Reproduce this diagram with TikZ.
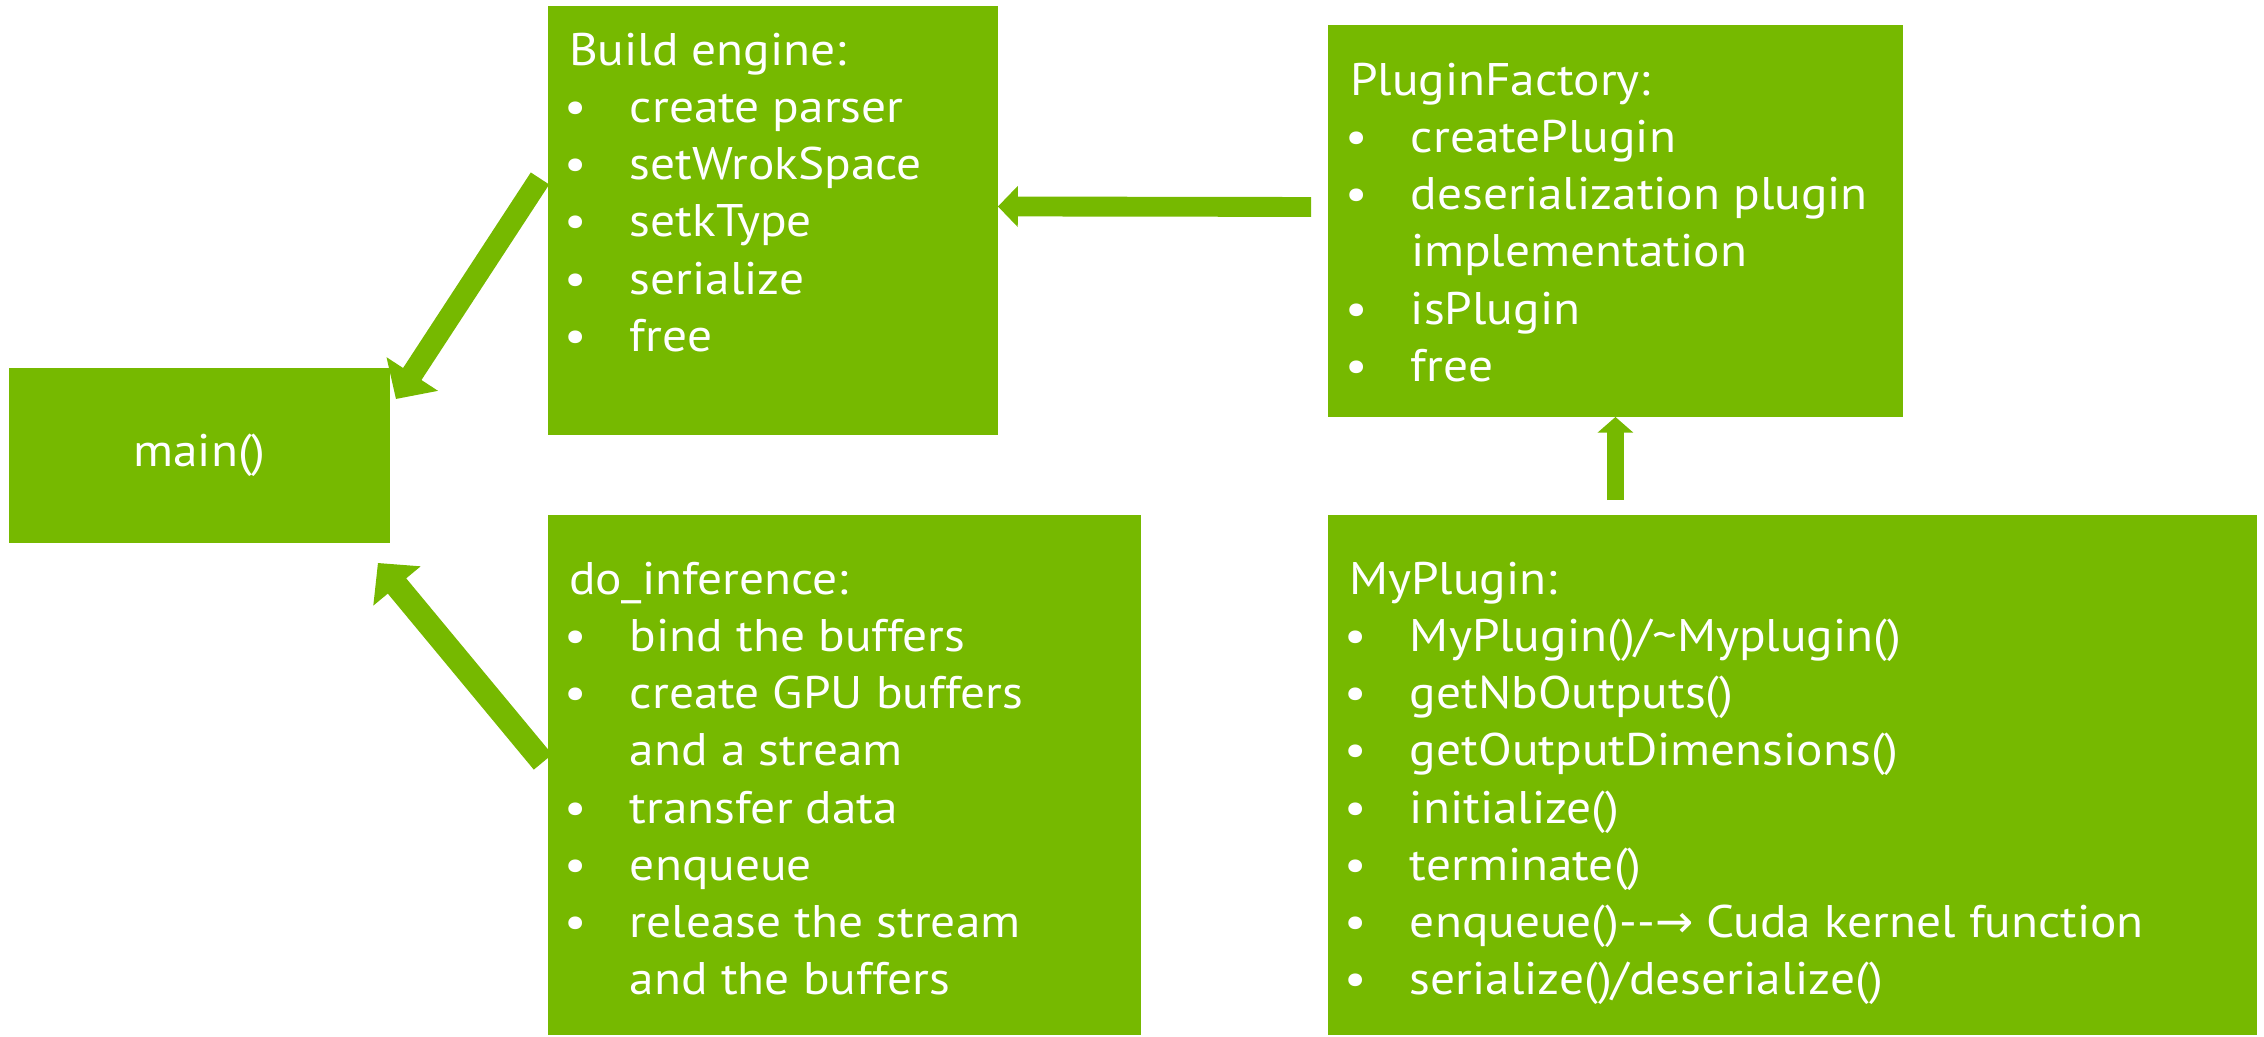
\documentclass[tikz,border=0pt]{standalone}
\usepackage{fontspec}
\setmainfont[FakeStretch=1.08]{PT Sans}
\newfontfamily\arrowfont{DejaVu Sans}
\usetikzlibrary{arrows.meta}
\definecolor{nvgreen}{RGB}{118,185,0}
\newcommand\bitem[1]{\makebox[1.22cm][l]{\makebox[0.28cm]{\textbullet}}#1}
\newcommand\bcont[1]{\hspace*{1.22cm}#1}
\begin{document}
\begin{tikzpicture}[x=0.02cm,y=-0.02cm,
  box/.style={fill=nvgreen, draw=none, inner sep=0pt, outer sep=0pt, anchor=north west},
  txt/.style={inner sep=0pt, outer sep=0pt, text=white, anchor=base west, font=\fontsize{26}{32.6}\selectfont},
  conn/.style={draw=nvgreen, line width=#1},
]
\useasboundingbox (0,0) rectangle (2264,1036);
% boxes
\node[box, minimum width=7.62cm, minimum height=3.5cm, text=white, font=\fontsize{26}{32.6}\selectfont] (main) at (9,368) {main()};
\node[box, minimum width=9cm, minimum height=8.58cm] (build) at (548,6) {};
\node[box, minimum width=11.5cm, minimum height=7.84cm] (pf) at (1328,25) {};
\node[box, minimum width=11.86cm, minimum height=10.4cm] (doinf) at (548,515) {};
\node[box, minimum width=18.58cm, minimum height=10.4cm] (myp) at (1328,515) {};
% texts
\node[txt] (buildtxt) at (569,65) {\parbox[t]{12cm}{Build engine:\\
\bitem{create parser}\\
\bitem{setWrokSpace}\\
\bitem{setkType}\\
\bitem{serialize}\\
\bitem{free}}};
\node[txt] (pftxt) at (1350,95) {\parbox[t]{12cm}{PluginFactory:\\
\bitem{createPlugin}\\
\bitem{deserialization plugin}\\
\bcont{implementation}\\
\bitem{isPlugin}\\
\bitem{free}}};
\node[txt] (doinftxt) at (569,594) {\parbox[t]{12cm}{do\_inference:\\
\bitem{bind the buffers}\\
\bitem{create GPU buffers}\\
\bcont{and a stream}\\
\bitem{transfer data}\\
\bitem{enqueue}\\
\bitem{release the stream}\\
\bcont{and the buffers}}};
\node[txt] (myptxt) at (1349,594) {\parbox[t]{18cm}{MyPlugin:\\
\bitem{MyPlugin()/\textasciitilde Myplugin()}\\
\bitem{getNbOutputs()}\\
\bitem{getOutputDimensions()}\\
\bitem{initialize()}\\
\bitem{terminate()}\\
\bitem{enqueue()-{}-{\arrowfont →} Cuda kernel function}\\
\bitem{serialize()/deserialize()}}};
% connector coordinates
\coordinate (a1s) at ([shift={(-8,-42)}]build.west);
\coordinate (a1e) at ([shift={(6,31)}]main.north east);
\coordinate (a2s) at ([shift={(-5,247)}]doinf.north west);
\coordinate (a2e) at ([shift={(-12,20)}]main.south east);
\coordinate (a3s) at ([shift={(-17,-14)}]pf.west);
\coordinate (a3e) at ([shift={(0,-14)}]build.east);
\coordinate (a4s) at ([shift={(0,-15)}]myp.north -| pf.south);
\coordinate (a4e) at (pf.south);
% connectors
\draw[conn=12.5pt, -{Triangle[width=34pt,length=17pt]}] (a1s) -- (a1e);
\draw[conn=13.6pt, -{Triangle[width=34pt,length=17pt]}] (a2s) -- (a2e);
\draw[conn=11.3pt, -{Triangle[width=22.7pt,length=11.3pt]}] (a3s) -- (a3e);
\draw[conn=10.2pt, -{Triangle[width=20pt,length=9pt]}] (a4s) -- (a4e);
\end{tikzpicture}
\end{document}
